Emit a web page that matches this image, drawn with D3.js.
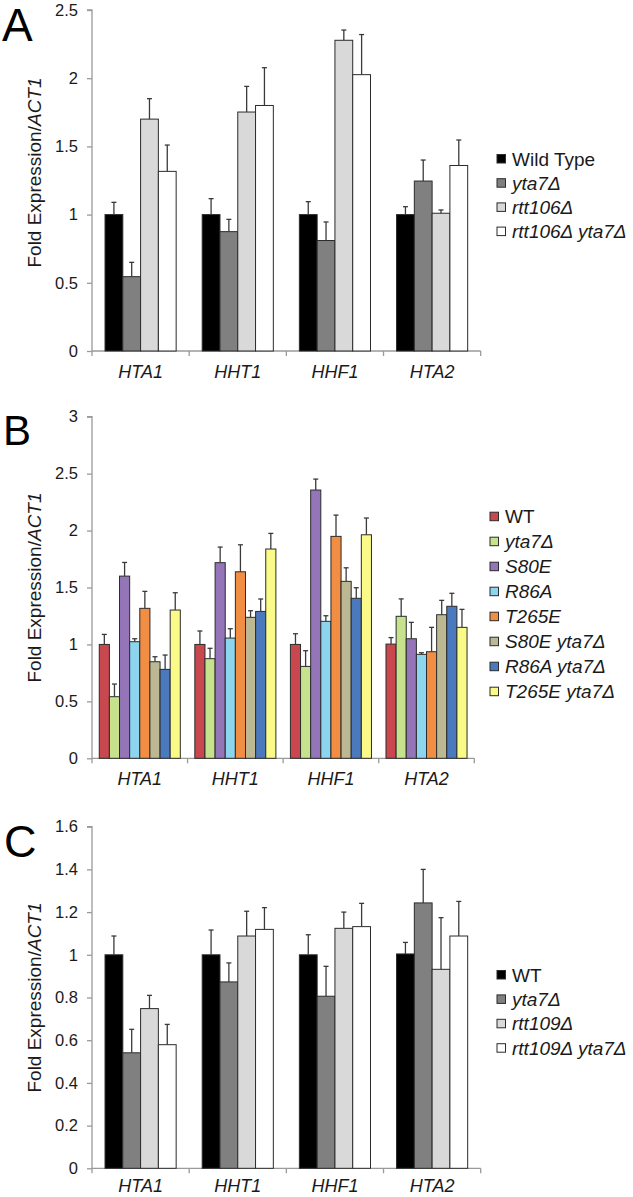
<!DOCTYPE html>
<html>
<head>
<meta charset="utf-8">
<script src="https://cdn.jsdelivr.net/npm/d3@7"></script>
<style>
  html, body { margin: 0; padding: 0; background: #fff; }
  svg { display: block; font-family: "Liberation Sans", Arial, sans-serif; }
</style>
</head>
<body>
<svg id="chart" width="633" height="1197"></svg>
<script>
// ---------- data ----------
const categories = ["HTA1", "HHT1", "HHF1", "HTA2"];

// Panel A
const seriesA = ["Wild Type", "yta7Δ", "rtt106Δ", "rtt106Δ yta7Δ"];
const a_wt      = [1.00, 1.00, 1.00, 1.00];
const a_wt_err  = [0.090, 0.117, 0.095, 0.058];
const a_yta7     = [0.545, 0.875, 0.810, 1.246];
const a_yta7_err = [0.105, 0.090, 0.136, 0.154];
const a_rtt106     = [1.700, 1.752, 2.278, 1.010];
const a_rtt106_err = [0.150, 0.188, 0.075, 0.024];
const a_dbl     = [1.317, 1.800, 2.026, 1.360];
const a_dbl_err = [0.193, 0.277, 0.294, 0.187];
const ticksA = [0, 0.5, 1, 1.5, 2, 2.5];

// Panel B
const seriesB = ["WT", "yta7Δ", "S80E", "R86A", "T265E", "S80E yta7Δ", "R86A yta7Δ", "T265E yta7Δ"];
const b_wt      = [1.000, 1.000, 1.000, 1.003];
const b_wt_err  = [0.088, 0.118, 0.094, 0.057];
const b_yta7     = [0.541, 0.875, 0.807, 1.247];
const b_yta7_err = [0.111, 0.091, 0.138, 0.153];
const b_s80e     = [1.600, 1.718, 2.356, 1.050];
const b_s80e_err = [0.120, 0.137, 0.096, 0.144];
const b_r86a     = [1.024, 1.056, 1.203, 0.913];
const b_r86a_err = [0.026, 0.082, 0.049, 0.014];
const b_t265e     = [1.317, 1.638, 1.949, 0.936];
const b_t265e_err = [0.149, 0.237, 0.187, 0.214];
const b_s80e_y     = [0.848, 1.238, 1.554, 1.261];
const b_s80e_y_err = [0.044, 0.058, 0.119, 0.126];
const b_r86a_y     = [0.781, 1.290, 1.405, 1.335];
const b_r86a_y_err = [0.126, 0.109, 0.093, 0.114];
const b_t265e_y     = [1.302, 1.838, 1.963, 1.150];
const b_t265e_y_err = [0.152, 0.137, 0.147, 0.158];
const ticksB = [0, 0.5, 1, 1.5, 2, 2.5, 3];

// Panel C
const seriesC = ["WT", "yta7Δ", "rtt109Δ", "rtt109Δ yta7Δ"];
const c_wt      = [1.000, 1.000, 1.000, 1.004];
const c_wt_err  = [0.088, 0.116, 0.094, 0.054];
const c_yta7     = [0.541, 0.873, 0.806, 1.243];
const c_yta7_err = [0.110, 0.089, 0.140, 0.157];
const c_rtt109     = [0.748, 1.088, 1.124, 0.932];
const c_rtt109_err = [0.062, 0.116, 0.076, 0.242];
const c_dbl     = [0.579, 1.119, 1.132, 1.088];
const c_dbl_err = [0.095, 0.102, 0.109, 0.162];
const ticksC = [0, 0.2, 0.4, 0.6, 0.8, 1, 1.2, 1.4, 1.6];

// ---------- drawing ----------
const svg = d3.select("#chart");
const FONT = "\"Liberation Sans\", Arial, sans-serif";

function legendLabel(sel, text) {
  if (text === "Wild Type" || text === "WT") {
    sel.append("tspan").text(text);
  } else {
    sel.append("tspan").attr("font-style", "italic").text(text);
  }
}

function panel(cfg) {
  const g = svg.append("g");
  const x = d3.scaleBand().domain(categories).range([cfg.x0, cfg.x1]).padding(0);
  const cw = x.bandwidth();
  const x1 = d3.scaleBand().domain(cfg.series).range([cw * cfg.outer, cw * (1 - cfg.outer)]).padding(0);
  const y = d3.scaleLinear().domain(cfg.domain).range([cfg.yBottom, cfg.yTop]);

  // y axis
  const yAxis = d3.axisLeft(y).tickValues(cfg.ticks).tickSize(5).tickPadding(9)
    .tickFormat(d => String(+d.toFixed(2)));
  const ya = g.append("g").attr("transform", `translate(${cfg.x0},0)`).call(yAxis);
  ya.select(".domain").attr("stroke", "#9a9a9a").attr("stroke-width", 1.3).attr("d", `M-5,${cfg.yTop}H0V${cfg.yBottom}`);
  ya.selectAll(".tick line").attr("stroke", "#9a9a9a").attr("stroke-width", 1.3);
  ya.selectAll(".tick text").attr("font-size", 16.5).attr("font-family", FONT).attr("fill", "#1a1a1a");

  // x axis
  const xa = g.append("g").attr("transform", `translate(0,${cfg.yBottom})`);
  xa.append("line").attr("x1", cfg.x0).attr("x2", cfg.x1).attr("stroke", "#9a9a9a").attr("stroke-width", 1.3);
  const bounds = categories.map(c => x(c)).concat([cfg.x1]);
  xa.selectAll("line.tk").data(bounds).enter().append("line").attr("class", "tk")
    .attr("x1", d => d).attr("x2", d => d).attr("y1", 0).attr("y2", 5)
    .attr("stroke", "#9a9a9a").attr("stroke-width", 1.3);
  xa.selectAll("text.cat").data(categories).enter().append("text").attr("class", "cat")
    .attr("x", d => x(d) + cw / 2).attr("y", cfg.catDy)
    .attr("text-anchor", "middle").attr("font-size", 18).attr("font-style", "italic")
    .attr("font-family", FONT).attr("fill", "#1a1a1a").text(d => d);

  // bars
  cfg.series.forEach((s, si) => {
    const vals = cfg.values[si], errs = cfg.errors[si];
    const gs = g.append("g");
    gs.selectAll("rect").data(categories).enter().append("rect")
      .attr("x", c => x(c) + x1(s))
      .attr("width", x1.bandwidth())
      .attr("y", (c, i) => y(vals[i]))
      .attr("height", (c, i) => cfg.yBottom - y(vals[i]))
      .attr("fill", cfg.colors[si]).attr("stroke", "#2b2b2b").attr("stroke-width", 1);
    const eb = gs.selectAll("g.eb").data(categories).enter().append("g").attr("class", "eb");
    eb.append("line")
      .attr("x1", c => x(c) + x1(s) + x1.bandwidth() / 2)
      .attr("x2", c => x(c) + x1(s) + x1.bandwidth() / 2)
      .attr("y1", (c, i) => y(vals[i]))
      .attr("y2", (c, i) => y(vals[i] + errs[i]))
      .attr("stroke", "#3a3a3a").attr("stroke-width", 1.3);
    eb.append("line")
      .attr("x1", c => x(c) + x1(s) + x1.bandwidth() / 2 - 2.5)
      .attr("x2", c => x(c) + x1(s) + x1.bandwidth() / 2 + 2.5)
      .attr("y1", (c, i) => y(vals[i] + errs[i]))
      .attr("y2", (c, i) => y(vals[i] + errs[i]))
      .attr("stroke", "#3a3a3a").attr("stroke-width", 1.3);
  });

  // y-axis title
  const yc = (cfg.yTop + cfg.yBottom) / 2 + cfg.titleDy;
  const t = g.append("text").attr("transform", `translate(41,${yc}) rotate(-90)`)
    .attr("text-anchor", "middle").attr("font-size", 19).attr("font-family", FONT).attr("fill", "#1a1a1a");
  t.append("tspan").text("Fold Expression/");
  t.append("tspan").attr("font-style", "italic").text("ACT1");

  // panel letter
  g.append("text").attr("x", cfg.letterX).attr("y", cfg.letterY)
    .attr("font-size", cfg.letterSize).attr("font-family", FONT).attr("fill", "#000").text(cfg.letter);

  // legend
  const lg = g.append("g");
  cfg.series.forEach((s, si) => {
    const cy = cfg.legY + si * cfg.legStep;
    lg.append("rect").attr("x", cfg.legX).attr("y", cy - 4.5).attr("width", 8.5).attr("height", 8.5)
      .attr("fill", cfg.colors[si]).attr("stroke", "#2b2b2b").attr("stroke-width", 1);
    const tx = lg.append("text").attr("x", cfg.legX + 15).attr("y", cy + 6.5)
      .attr("font-size", 19).attr("font-family", FONT).attr("fill", "#1a1a1a");
    legendLabel(tx, s);
  });
}

const grays = ["#000000", "#808080", "#d9d9d9", "#ffffff"];
const colorsB = ["#c9484f", "#c6e28c", "#9476b8", "#8dd4ee", "#f28e44", "#bdb894", "#4a79bd", "#fafa88"];

panel({
  series: seriesA, values: [a_wt, a_yta7, a_rtt106, a_dbl], errors: [a_wt_err, a_yta7_err, a_rtt106_err, a_dbl_err],
  colors: grays, domain: [0, 2.5], ticks: ticksA,
  x0: 92, x1: 480.7, yTop: 10, yBottom: 351, outer: 0.134, titleDy: -8, catDy: 27,
  letter: "A", letterX: 2, letterY: 41, letterSize: 46,
  legX: 497, legY: 159, legStep: 24.2
});

panel({
  series: seriesB,
  values: [b_wt, b_yta7, b_s80e, b_r86a, b_t265e, b_s80e_y, b_r86a_y, b_t265e_y],
  errors: [b_wt_err, b_yta7_err, b_s80e_err, b_r86a_err, b_t265e_err, b_s80e_y_err, b_r86a_y_err, b_t265e_y_err],
  colors: colorsB, domain: [0, 3], ticks: ticksB,
  x0: 92, x1: 474.3, yTop: 416.7, yBottom: 758.3, outer: 0.076, titleDy: 0, catDy: 27,
  letter: "B", letterX: 3, letterY: 445, letterSize: 42,
  legX: 490, legY: 516.7, legStep: 25.0
});

panel({
  series: seriesC, values: [c_wt, c_yta7, c_rtt109, c_dbl], errors: [c_wt_err, c_yta7_err, c_rtt109_err, c_dbl_err],
  colors: grays, domain: [0, 1.6], ticks: ticksC,
  x0: 92, x1: 480.7, yTop: 826.7, yBottom: 1168.3, outer: 0.134, titleDy: 0, catDy: 24,
  letter: "C", letterX: 4, letterY: 857, letterSize: 45,
  legX: 497, legY: 975, legStep: 24.4
});
</script>
</body>
</html>
